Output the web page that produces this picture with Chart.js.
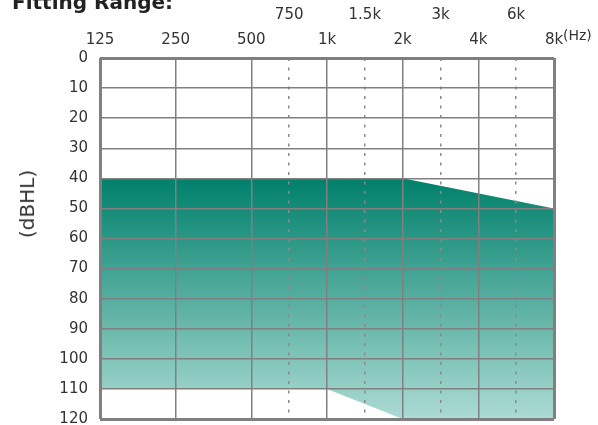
<!DOCTYPE html>
<html>
<head>
<meta charset="utf-8">
<script src="https://cdn.jsdelivr.net/npm/chart.js@4"></script>
<style>
  html, body { margin: 0; padding: 0; background: #fff; }
  #wrap { position: relative; width: 598px; height: 425px; overflow: hidden; }
  canvas { position: absolute; left: 0; top: 0; }
  .txt { position: absolute; font-family: "DejaVu Sans", sans-serif; color: #333; white-space: nowrap; }
  #title { left: 12px; top: -10px; font-size: 20px; font-weight: bold; line-height: 24px; color: #222; }
  #hz { left: 563px; top: 27px; font-size: 14px; line-height: 16px; }
  #ylab { left: 27px; top: 204px; font-size: 20px; line-height: 22px; transform: translate(-50%, -50%) rotate(-90deg); }
</style>
</head>
<body>
<div id="wrap">
  <canvas id="chart" width="598" height="440"></canvas>
  <div class="txt" id="title">Fitting Range:</div>
  <div class="txt" id="hz">(Hz)</div>
  <div class="txt" id="ylab">(dBHL)</div>
</div>
<script>
// octave frequencies (solid lines)
const octaves = [125, 250, 500, 1000, 2000, 4000, 8000];
const octaveLabels = ['125', '250', '500', '1k', '2k', '4k', '8k'];
// half-octave lines (dotted), drawn midway between 500-1k, 1k-2k, 2k-4k, 4k-8k
const midLabels = ['750', '1.5k', '3k', '6k'];
const midOctaves = octaves.slice(2, 6).map((f, i) => Math.sqrt(f * octaves[i + 3]));

// fitting range boundaries
const rangeFreqs = [125, 1000, 2000, 8000];
const upperLevel = [40, 40, 40, 50];
const lowerLevel = [110, 110, 120, 120];

const gridGray = '#808080';
const textGray = '#333';
const tickFont = { family: 'DejaVu Sans', size: 15 };

const toPoints = (ys) => rangeFreqs.map((f, i) => ({ x: f, y: ys[i] }));

const ctx = document.getElementById('chart').getContext('2d');

const fillGradient = (context) => {
  const { chart } = context;
  if (!chart.chartArea) return '#2a9a88';
  const y = chart.scales.y;
  const g = chart.ctx.createLinearGradient(0, y.getPixelForValue(40), 0, y.getPixelForValue(120));
  g.addColorStop(0, '#00806b');
  g.addColorStop(1, '#acdbd4');
  return g;
};

new Chart(ctx, {
  type: 'line',
  data: {
    datasets: [
      {
        data: toPoints(upperLevel),
        borderWidth: 0,
        pointRadius: 0,
        fill: '+1',
        backgroundColor: fillGradient,
      },
      {
        data: toPoints(lowerLevel),
        borderWidth: 0,
        pointRadius: 0,
        fill: false,
      },
    ],
  },
  options: {
    responsive: false,
    animation: false,
    layout: { padding: { top: 0, right: 44, bottom: 6, left: 0 } },
    plugins: {
      legend: { display: false },
      title: { display: false },
      tooltip: { enabled: false },
    },
    scales: {
      xMid: {
        type: 'logarithmic',
        position: 'top',
        axis: 'x',
        weight: 1,
        min: 125,
        max: 8000,
        afterBuildTicks: (scale) => { scale.ticks = midOctaves.map(v => ({ value: v })); },
        afterFit: (scale) => { scale.height = 28; },
        ticks: {
          autoSkip: false,
          maxRotation: 0,
          padding: 4,
          color: textGray,
          font: tickFont,
          callback: (v, i) => midLabels[i] ?? '',
        },
        grid: { color: '#8a8a8a', lineWidth: 1.5, drawTicks: false, z: 1 },
        border: { display: false, dash: [3, 6.5] },
      },
      x: {
        type: 'logarithmic',
        position: 'top',
        weight: 0,
        min: 125,
        max: 8000,
        afterBuildTicks: (scale) => { scale.ticks = octaves.map(v => ({ value: v })); },
        afterFit: (scale) => { scale.height = 30; },
        ticks: {
          autoSkip: false,
          maxRotation: 0,
          padding: 9,
          color: textGray,
          font: tickFont,
          callback: (v, i) => octaveLabels[i] ?? '',
        },
        grid: {
          color: gridGray,
          drawTicks: false,
          z: 2,
          lineWidth: (c) => (c.tick && (c.tick.value === 125 || c.tick.value === 8000)) ? 3 : 1.5,
        },
        border: { display: false },
      },
      y: {
        type: 'linear',
        reverse: true,
        min: 0,
        max: 120,
        afterFit: (scale) => { scale.width = 100; },
        ticks: {
          stepSize: 10,
          padding: 12,
          color: textGray,
          font: tickFont,
        },
        grid: {
          color: gridGray,
          drawTicks: false,
          z: 2,
          lineWidth: (c) => (c.tick && (c.tick.value === 0 || c.tick.value === 120)) ? 3 : 1.5,
        },
        border: { display: false },
      },
    },
  },
});
</script>
</body>
</html>
